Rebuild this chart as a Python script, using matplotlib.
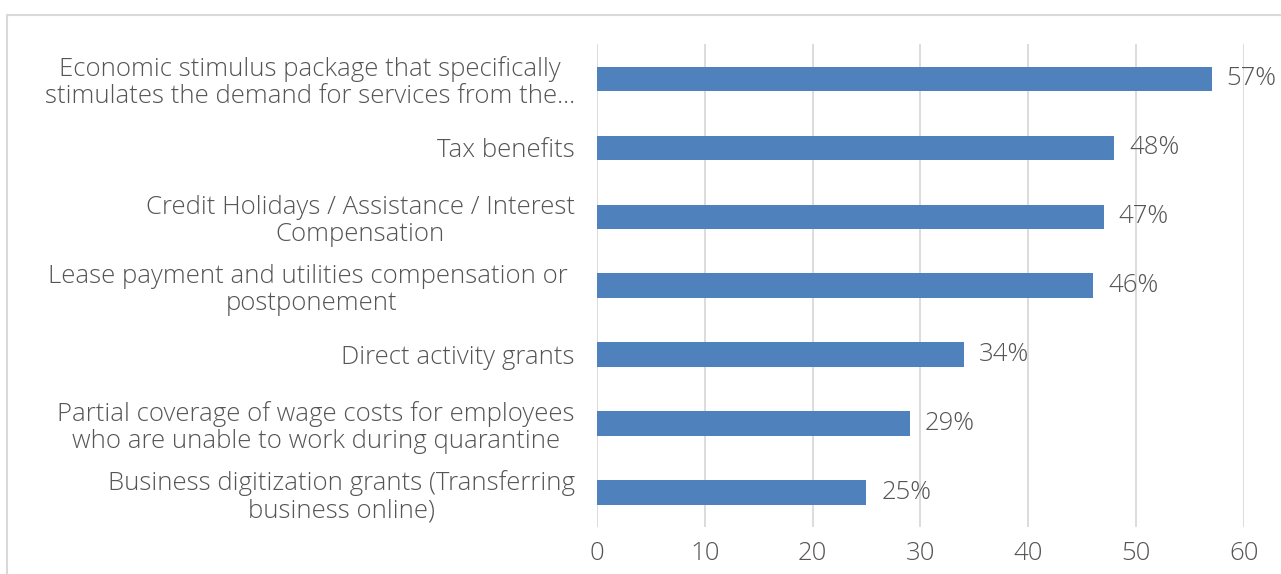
import matplotlib.pyplot as plt
from matplotlib.patches import Rectangle

# data, top to bottom as in the chart
categories = [
    "Economic stimulus package that specifically\nstimulates the demand for services from the...",
    "Tax benefits",
    "Credit Holidays / Assistance / Interest\nCompensation",
    "Lease payment and utilities compensation or \npostponement",
    "Direct activity grants",
    "Partial coverage of wage costs for employees\nwho are unable to work during quarantine",
    "Business digitization grants (Transferring\nbusiness online)",
]
values = [57, 48, 47, 46, 34, 29, 25]
xticks = [0, 10, 20, 30, 40, 50, 60]

plt.rcParams['font.family'] = ['Open Sans', 'DejaVu Sans']
txt_col = '#555555'
bar_col = '#4F81BD'
grid_col = '#D9D9D9'
fs = 18.5

fig = plt.figure(figsize=(12.81, 5.74), dpi=100)
ax = fig.add_axes([0.466, 0.082, 0.505, 0.841])

# light frame around the chart area
fig.patches.append(Rectangle((7/1281, -0.1), 1.2, 1 - 15/574 + 0.1,
                             transform=fig.transFigure, fill=False,
                             edgecolor=grid_col, linewidth=1.5))

y = list(range(len(categories)))
ax.barh(y, values, height=0.35, color=bar_col, zorder=3)
for yi, v in zip(y, values):
    ax.text(v + 1.4, yi, f"{v}%", va='center', ha='left', fontsize=fs,
            color=txt_col, fontweight='light')

ax.set_xlim(0, 60)
ax.set_ylim(6.5, -0.5)
ax.set_xticks(xticks)
ax.set_yticks(y)
ax.set_yticklabels(categories, fontsize=fs, color=txt_col,
                   multialignment='center', fontweight='light', linespacing=1.12)
ax.tick_params(axis='x', labelsize=fs, colors=txt_col, length=0, pad=10)
for t in ax.get_xticklabels():
    t.set_fontweight('light')
ax.tick_params(axis='y', length=0, pad=16)
ax.grid(axis='x', color=grid_col, linewidth=1.3, zorder=0)
for s in ax.spines.values():
    s.set_visible(False)

fig.savefig('out.png', dpi=100)
